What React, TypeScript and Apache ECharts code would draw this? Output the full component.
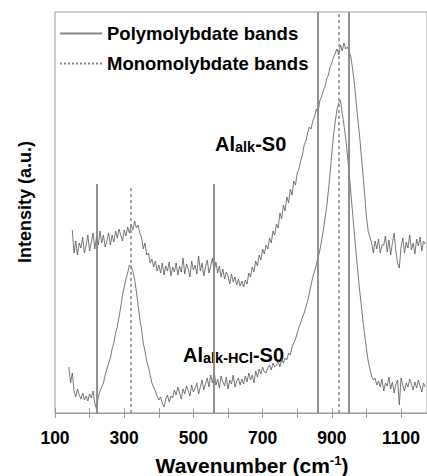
import React, { useEffect, useRef } from "react";
import * as echarts from "echarts";

const FONT = "'Liberation Sans', Arial, Helvetica, sans-serif";

// Wavenumber sampling (cm-1)
const upperStart = 150;
const lowerStart = 140;
const sampleStep = 5;

// Al_alk-S0 spectrum (upper trace), arbitrary intensity units
const upperIntensity = [
  183, 160, 172, 158, 170, 165, 176, 160, 168, 178, 162, 171, 180, 164, 176, 168, 182, 170, 178, 166,
  172, 180, 168, 178, 171, 182, 175, 184, 178, 172, 183, 177, 186, 180, 188, 183, 192, 185, 188, 180,
  176, 164, 170, 158, 160, 150, 154, 146, 152, 142, 148, 140, 150, 138, 147, 142, 151, 137, 146, 141,
  150, 138, 147, 141, 155, 139, 149, 144, 136, 152, 143, 148, 139, 157, 142, 150, 137, 146, 153, 140,
  147, 155, 142, 151, 140, 147, 136, 144, 134, 141, 137, 129, 139, 131, 136, 128, 134, 127, 132, 126,
  133, 129, 140, 136, 146, 141, 152, 147, 158, 153, 164, 159, 168, 164, 175, 170, 182, 178, 189, 185,
  200, 194, 208, 202, 216, 210, 224, 218, 232, 228, 240, 244, 252, 258, 268, 272, 280, 286, 284, 292,
  296, 304, 300, 312, 316, 322, 326, 334, 338, 346, 350, 356, 360, 364, 358, 368, 362, 370, 364, 366,
  362, 356, 344, 330, 312, 294, 278, 258, 238, 218, 196, 182, 176, 170, 160, 172, 164, 174, 160, 168,
  168, 177, 161, 173, 158, 170, 180, 162, 150, 145, 166, 175, 160, 171, 165, 178, 163, 170, 159, 174,
  167, 176, 162, 172, 169,
];

// Al_alk-HCl-S0 spectrum (lower trace)
const lowerIntensity = [
  46, 30, 40, 22, 16, 24, 18, 14, 20, 13, 17, 12, 19, 15, 22, 10, 4, 16, 22, 26,
  30, 38, 44, 50, 55, 64, 70, 80, 86, 96, 106, 118, 126, 134, 140, 148, 146, 142, 134, 122,
  108, 94, 84, 70, 62, 52, 46, 38, 30, 26, 22, 17, 13, 16, 10, 6, 14, 18, 11, 17,
  15, 23, 18, 26, 20, 14, 24, 19, 27, 22, 17, 28, 21, 25, 30, 19, 26, 33, 23, 29,
  35, 26, 38, 30, 41, 28, 34, 25, 37, 31, 27, 36, 24, 33, 29, 38, 26, 32, 35, 28,
  34, 29, 37, 31, 40, 33, 38, 30, 42, 36, 44, 39, 46, 41, 40, 45, 48, 43, 50, 46,
  48, 52, 46, 54, 50, 55, 53, 60, 58, 66, 70, 74, 80, 86, 90, 96, 100, 106, 112, 120,
  128, 136, 142, 148, 155, 162, 172, 182, 194, 206, 222, 240, 260, 278, 292, 304, 310, 313, 300, 288,
  275, 258, 240, 220, 200, 180, 160, 142, 124, 108, 92, 78, 64, 52, 44, 37, 33, 35, 28, 32,
  26, 34, 22, 30, 27, 36, 24, 31, 20, 29, 33, 8, 35, 28, 22, 30, 26, 34, 29, 23,
  31, 25, 33, 27, 21, 30, 26,
];

// Reference band positions (cm-1) and the height their marker lines reach
const polyBands = [220, 560, 860, 950];
const polyBandTops = [229, 229, 401, 401];
const monoBands = [320, 920];
const monoBandTops = [227, 401];

const xMin = 100;
const xMax = 1175;
const yMax = 401;
const xTickLabels = [100, 300, 500, 700, 900, 1100];

const toPairs = (start: number, vals: number[]) =>
  vals.map((v, i) => [start + i * sampleStep, v]);

export default function App() {
  const ref = useRef<HTMLDivElement>(null);
  useEffect(() => {
    document.body.style.margin = "0";
    const chart = echarts.init(ref.current!, null, { renderer: "svg" });
    const bandLines = (xs: number[], tops: number[]) =>
      xs.map((x, i) => [{ coord: [x, 0] }, { coord: [x, tops[i]] }]);
    const subRich = {
      m: { fontSize: 20, fontWeight: "bold", fontFamily: FONT, fill: "#000", lineHeight: 22 },
      s: { fontSize: 14.5, fontWeight: "bold", fontFamily: FONT, fill: "#000", lineHeight: 14, verticalAlign: "bottom" },
    };
    const bandColor = "#858585";
    chart.setOption({
      animation: false,
      grid: { left: 55, top: 12, right: -1, bottom: 63, show: true, borderColor: "#9a9a9a", borderWidth: 1 },
      legend: {
        data: ["Polymolybdate bands", "Monomolybdate bands"],
        orient: "vertical",
        left: 59,
        top: 24,
        padding: 0,
        itemWidth: 42,
        itemHeight: 18,
        itemGap: 11,
        itemStyle: { color: "rgba(0,0,0,0)", borderWidth: 0, opacity: 0 },
        textStyle: { fontSize: 18.5, fontWeight: "bold", color: "#000", fontFamily: FONT },
      },
      xAxis: [
        {
          type: "value",
          min: xMin,
          max: xMax,
          interval: 100,
          axisLine: { lineStyle: { color: "#9a9a9a" } },
          axisTick: { length: 5, lineStyle: { color: "#9a9a9a" } },
          splitLine: { show: false },
          axisLabel: {
            showMaxLabel: false,
            formatter: (v: number) => (xTickLabels.includes(v) ? String(v) : ""),
            fontSize: 17.5,
            fontWeight: "bold",
            color: "#000",
            margin: 16,
            fontFamily: FONT,
          },
        },
        {
          type: "value",
          min: xMin,
          max: xMax,
          interval: 100,
          position: "bottom",
          axisLine: { show: false },
          axisTick: { inside: true, length: 5, lineStyle: { color: "#9a9a9a" } },
          axisLabel: { show: false },
          splitLine: { show: false },
        },
      ],
      yAxis: { type: "value", min: 0, max: yMax, show: false },
      series: [
        {
          name: "Al_alk-S0",
          type: "line",
          data: toPairs(upperStart, upperIntensity),
          symbol: "none",
          silent: true,
          lineStyle: { color: "#555", width: 0.8 },
        },
        {
          name: "Al_alk-HCl-S0",
          type: "line",
          data: toPairs(lowerStart, lowerIntensity),
          symbol: "none",
          silent: true,
          lineStyle: { color: "#555", width: 0.8 },
        },
        {
          name: "Polymolybdate bands",
          type: "line",
          data: [],
          symbol: "none",
          itemStyle: { color: bandColor },
          lineStyle: { color: bandColor, width: 2, type: "solid" },
          markLine: {
            symbol: "none",
            silent: true,
            label: { show: false },
            lineStyle: { color: bandColor, width: 1.8, type: "solid" },
            data: bandLines(polyBands, polyBandTops),
          },
        },
        {
          name: "Monomolybdate bands",
          type: "line",
          data: [],
          symbol: "none",
          itemStyle: { color: bandColor },
          lineStyle: { color: bandColor, width: 1.5, type: [2, 2] },
          markLine: {
            symbol: "none",
            silent: true,
            label: { show: false },
            lineStyle: { color: bandColor, width: 1.5, type: [3, 3] },
            data: bandLines(monoBands, monoBandTops),
          },
        },
      ],
      graphic: [
        {
          type: "text",
          x: 25,
          y: 202,
          rotation: Math.PI / 2,
          style: {
            text: "Intensity (a.u.)",
            fontSize: 18,
            fontWeight: "bold",
            fontFamily: FONT,
            fill: "#000",
            align: "center",
            verticalAlign: "middle",
          },
        },
        {
          type: "text",
          x: 252,
          y: 465,
          style: {
            text: "{m|Wavenumber (cm}{s|-1}{m|)}",
            align: "center",
            verticalAlign: "middle",
            rich: {
              m: { fontSize: 21, fontWeight: "bold", fontFamily: FONT, fill: "#000", lineHeight: 22 },
              s: { fontSize: 13, fontWeight: "bold", fontFamily: FONT, fill: "#000", lineHeight: 12, verticalAlign: "top" },
            },
          },
        },
        {
          type: "text",
          x: 215,
          y: 132.7,
          style: { text: "{m|Al}{s|alk}{m|-S0}", align: "left", verticalAlign: "top", rich: subRich },
        },
        {
          type: "text",
          x: 183,
          y: 343.7,
          style: { text: "{m|Al}{s|alk-HCl}{m|-S0}", align: "left", verticalAlign: "top", rich: subRich },
        },
      ],
    });
    return () => chart.dispose();
  }, []);
  return <div ref={ref} style={{ position: "absolute", left: 0, top: 0, width: 427, height: 476 }} />;
}
